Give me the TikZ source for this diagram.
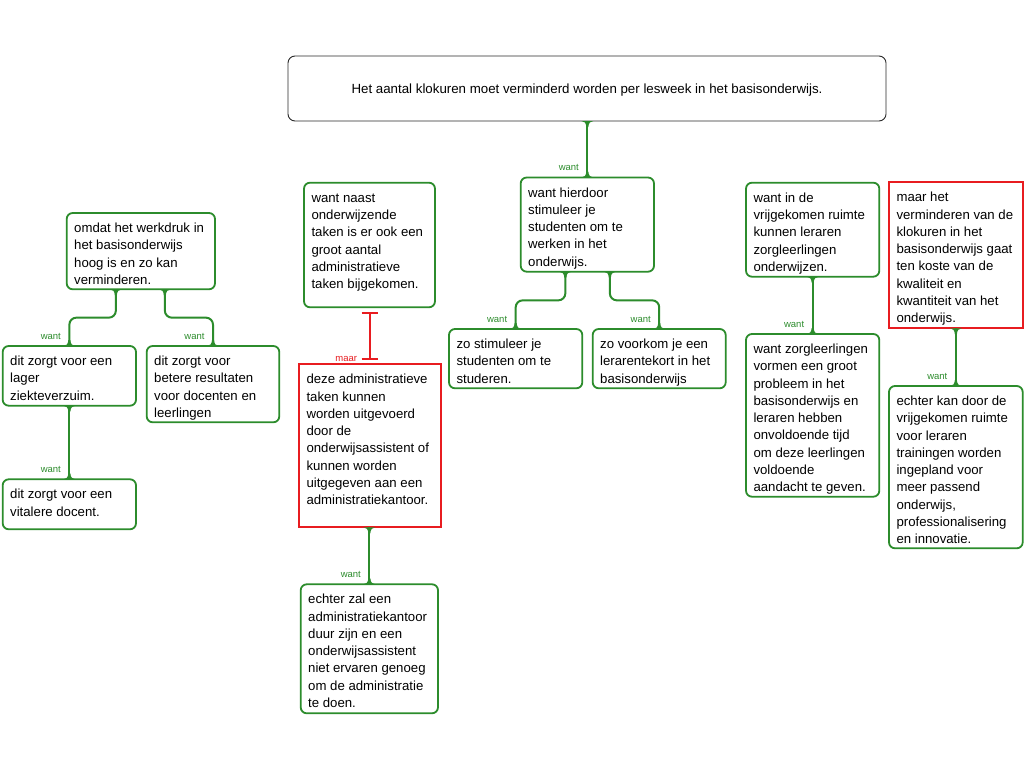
\documentclass[tikz,border=0pt]{standalone}
\usepackage{fontspec}
\setmainfont{Liberation Sans}
\usetikzlibrary{calc}
\definecolor{wgreen}{RGB}{44,140,44}
\definecolor{wred}{RGB}{232,28,32}
\definecolor{tborder}{RGB}{40,40,40}
\newcommand\txtlines[1]{\begin{tabular}[t]{@{}l@{}}#1\end{tabular}}
\begin{document}
\begin{tikzpicture}[x=1pt,y=-1pt,
  every node/.style={inner sep=0pt,outer sep=0pt},
  gbox/.style={draw=wgreen,line width=1.8pt,rounded corners=6pt,fill=white,anchor=north west},
  rbox/.style={draw=wred,line width=1.8pt,fill=white,anchor=north west},
  topbox/.style={draw=tborder,line width=0.9pt,rounded corners=7pt,fill=white,anchor=north west},
  toptxt/.style={font=\fontsize{13.3}{17.2}\selectfont,text=black},
  txt/.style={anchor=base west,font=\fontsize{13.2}{17.25}\selectfont,text=black},
  lbl/.style={anchor=base east,font=\fontsize{9.5}{11}\selectfont,text=wgreen},
  rlbl/.style={anchor=base east,font=\fontsize{9.5}{11}\selectfont,text=wred},
  conn/.style={draw=wgreen,line width=2pt,rounded corners=7pt},
  rconn/.style={draw=wred,line width=2pt},
  pics/fdown/.style={code={\fill[wgreen] (-6,0) .. controls (-3,0) and (-1.2,2) .. (-1,6) -- (1,6) .. controls (1.2,2) and (3,0) .. (6,0) -- cycle;}},
  pics/fup/.style={code={\fill[wgreen] (-6,0) .. controls (-3,0) and (-1.2,-2) .. (-1,-6) -- (1,-6) .. controls (1.2,-2) and (3,0) .. (6,0) -- cycle;}}
]
\fill[white] (0,0) rectangle (1024,768);
\useasboundingbox (0,0) rectangle (1024,768);

% top claim
\node[topbox,minimum width=598,minimum height=65] (T) at (288,56) {};
\node[toptxt] (Tt) at ([yshift=-2pt]T.center)
  {Het aantal klokuren moet verminderd worden per lesweek in het basisonderwijs.};

% boxes
\node[gbox,minimum width=148.3,minimum height=76.3] (A) at (66.7,213) {};
\node[gbox,minimum width=133.3,minimum height=59.7] (B) at (2.7,346) {};
\node[gbox,minimum width=132.6,minimum height=76.3] (C) at (146.7,346) {};
\node[gbox,minimum width=133.3,minimum height=50] (D) at (2.7,479.3) {};
\node[gbox,minimum width=131,minimum height=124.6] (E) at (304,182.7) {};
\node[rbox,minimum width=142,minimum height=163] (F) at (299,364.3) {};
\node[gbox,minimum width=137.3,minimum height=129] (G) at (300.7,584.3) {};
\node[gbox,minimum width=133.3,minimum height=94.2] (H) at (520.7,177.5) {};
\node[gbox,minimum width=133.3,minimum height=59.3] (I) at (449,329) {};
\node[gbox,minimum width=133,minimum height=59.3] (J) at (592.7,329) {};
\node[gbox,minimum width=133.3,minimum height=94] (K) at (746,182.7) {};
\node[gbox,minimum width=133.3,minimum height=162.7] (L) at (746,334) {};
\node[rbox,minimum width=133.7,minimum height=146] (M) at (889,182.3) {};
\node[gbox,minimum width=133.7,minimum height=162.3] (N) at (889,386) {};

% texts
\node[txt] (At) at ($(A.north west)+(7.5,19.6)$) {\txtlines{omdat het werkdruk in\\het basisonderwijs\\hoog is en zo kan\\verminderen.}};
\node[txt] (Bt) at ($(B.north west)+(7.5,19.6)$) {\txtlines{dit zorgt voor een\\lager\\ziekteverzuim.}};
\node[txt] (Ct) at ($(C.north west)+(7.5,19.6)$) {\txtlines{dit zorgt voor\\betere resultaten\\voor docenten en\\leerlingen}};
\node[txt] (Dt) at ($(D.north west)+(7.5,19.6)$) {\txtlines{dit zorgt voor een\\vitalere docent.}};
\node[txt] (Et) at ($(E.north west)+(7.5,19.6)$) {\txtlines{want naast\\onderwijzende\\taken is er ook een\\groot aantal\\administratieve\\taken bijgekomen.}};
\node[txt] (Ft) at ($(F.north west)+(7.5,19.6)$) {\txtlines{deze administratieve\\taken kunnen\\worden uitgevoerd\\door de\\onderwijsassistent of\\kunnen worden\\uitgegeven aan een\\administratiekantoor.}};
\node[txt] (Gt) at ($(G.north west)+(7.5,19.6)$) {\txtlines{echter zal een\\administratiekantoor\\duur zijn en een\\onderwijsassistent\\niet ervaren genoeg\\om de administratie\\te doen.}};
\node[txt] (Ht) at ($(H.north west)+(7.5,19.6)$) {\txtlines{want hierdoor\\stimuleer je\\studenten om te\\werken in het\\onderwijs.}};
\node[txt] (It) at ($(I.north west)+(7.5,19.6)$) {\txtlines{zo stimuleer je\\studenten om te\\studeren.}};
\node[txt] (Jt) at ($(J.north west)+(7.5,19.6)$) {\txtlines{zo voorkom je een\\lerarentekort in het\\basisonderwijs}};
\node[txt] (Kt) at ($(K.north west)+(7.5,19.6)$) {\txtlines{want in de\\vrijgekomen ruimte\\kunnen leraren\\zorgleerlingen\\onderwijzen.}};
\node[txt] (Lt) at ($(L.north west)+(7.5,19.6)$) {\txtlines{want zorgleerlingen\\vormen een groot\\probleem in het\\basisonderwijs en\\leraren hebben\\onvoldoende tijd\\om deze leerlingen\\voldoende\\aandacht te geven.}};
\node[txt] (Mt) at ($(M.north west)+(7.5,19.6)$) {\txtlines{maar het\\verminderen van de\\klokuren in het\\basisonderwijs gaat\\ten koste van de\\kwaliteit en\\kwantiteit van het\\onderwijs.}};
\node[txt] (Nt) at ($(N.north west)+(7.5,19.6)$) {\txtlines{echter kan door de\\vrijgekomen ruimte\\voor leraren\\trainingen worden\\ingepland voor\\meer passend\\onderwijs,\\professionalisering\\en innovatie.}};

% connectors (want)
\draw[conn] (H.north |- T.south) -- (H.north);
\pic at (H.north |- T.south) {fdown}; \pic at (H.north) {fup};
\node[lbl] (lH) at ([xshift=-8.5pt,yshift=6.8pt]H.north) {want};

\draw[conn] ([xshift=-25pt]A.south) |- ($([xshift=-25pt]A.south)!0.5!(B.north)$) -| (B.north);
\pic at ([xshift=-25pt]A.south) {fdown}; \pic at (B.north) {fup};
\node[lbl] (lB) at ([xshift=-8.5pt,yshift=6.8pt]B.north) {want};

\draw[conn] ([xshift=24pt]A.south) |- ($([xshift=24pt]A.south)!0.5!(C.north)$) -| (C.north);
\pic at ([xshift=24pt]A.south) {fdown}; \pic at (C.north) {fup};
\node[lbl] (lC) at ([xshift=-8.5pt,yshift=6.8pt]C.north) {want};

\draw[conn] (B.south) -- (D.north);
\pic at (B.south) {fdown}; \pic at (D.north) {fup};
\node[lbl] (lD) at ([xshift=-8.5pt,yshift=6.8pt]D.north) {want};

\draw[conn] (G.north |- F.south) -- (G.north);
\pic at (G.north |- F.south) {fdown}; \pic at (G.north) {fup};
\node[lbl] (lG) at ([xshift=-8.5pt,yshift=6.8pt]G.north) {want};

\draw[conn] ([xshift=-22pt]H.south) |- ($([xshift=-22pt]H.south)!0.5!(I.north)$) -| (I.north);
\pic at ([xshift=-22pt]H.south) {fdown}; \pic at (I.north) {fup};
\node[lbl] (lI) at ([xshift=-8.5pt,yshift=6.8pt]I.north) {want};

\draw[conn] ([xshift=22.5pt]H.south) |- ($([xshift=22.5pt]H.south)!0.5!(J.north)$) -| (J.north);
\pic at ([xshift=22.5pt]H.south) {fdown}; \pic at (J.north) {fup};
\node[lbl] (lJ) at ([xshift=-8.5pt,yshift=6.8pt]J.north) {want};

\draw[conn] (K.south) -- (L.north);
\pic at (K.south) {fdown}; \pic at (L.north) {fup};
\node[lbl] (lL) at ([xshift=-8.5pt,yshift=6.8pt]L.north) {want};

\draw[conn] (M.south) -- (N.north);
\pic at (M.south) {fdown}; \pic at (N.north) {fup};
\node[lbl] (lN) at ([xshift=-8.5pt,yshift=6.8pt]N.north) {want};

% objection (maar)
\coordinate (m1) at ([yshift=-6pt]E.south);
\coordinate (m2) at ([yshift=5pt]E.south |- F.north);
\draw[rconn] (m1) -- (m2);
\draw[rconn] ([xshift=-8pt]m1) -- ([xshift=8pt]m1);
\draw[rconn] ([xshift=-8pt]m2) -- ([xshift=8pt]m2);
\node[rlbl] (lF) at ([xshift=-12.5pt,yshift=-1.8pt]m2) {maar};
\end{tikzpicture}
\end{document}
